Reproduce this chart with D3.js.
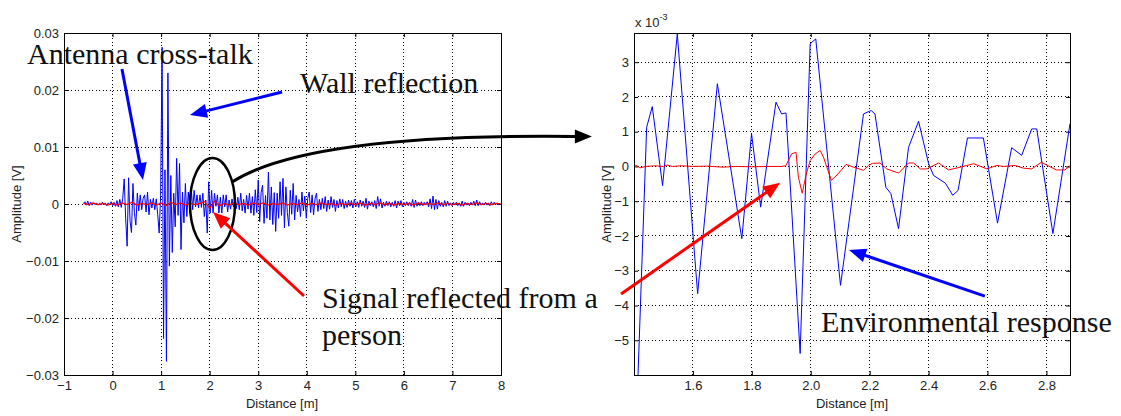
<!DOCTYPE html>
<html>
<head>
<meta charset="utf-8">
<script src="https://cdn.jsdelivr.net/npm/d3@7"></script>
<style>
  body { margin: 0; background: #fff; }
  svg { display: block; }
  .tick text { font-family: "Liberation Sans", Arial, sans-serif; font-size: 13px; fill: #222; }
  .lab { font-family: "Liberation Sans", Arial, sans-serif; font-size: 13px; fill: #222; }
  .note { font-family: "Liberation Serif", "Times New Roman", serif; font-size: 30px; fill: #111; }
</style>
</head>
<body>
<svg id="chart" width="1121" height="416"></svg>
<script>
// ---- data (amplitudes in mV) ----
// wide view: blue trace sampled every 0.03 m starting at -0.6 m
const wideStart = -0.6, wideStep = 0.03;
const wideBlue = [
  0.1, 0.4, -0.2, 0.5, -0.3, 0.3, -0.2, 0.2, -0.1, 0.2,
  -0.2, 0.1, -0.2, 0.3, -0.1, 0.2, -0.3, 0.2, -0.1, 0.4,
  -0.3, 0.3, -0.4, 0.6, -0.5, 0.8, -0.6, 1.0, 4.4, -2.5,
  -7.4, 4.6, -3.0, -5.0, 3.6, -1.5, -3.7, 1.9, -1.2, 1.6,
  -1.0, 1.0, 1.6, -1.4, 2.1, -1.9, 0.8, -0.7, 1.0, -1.0,
  0.9, -1.8, -5.1, 1.5, 27.5, -23.6, 6.0, -27.6, 23.0, -10.9,
  5.0, -8.5, 1.9, -4.0, 8.0, -2.0, 7.1, -8.0, 2.1, -3.3,
  3.6, -2.2, 2.1, -1.5, 3.0, -1.0, 2.4, -0.5, 1.6, -0.7,
  1.6, -0.6, 1.9, -2.2, 0.7, -5.1, 3.9, -1.6, 2.4, -1.6,
  1.9, -0.4, 1.6, -1.6, 1.2, -1.6, 1.6, -0.5, 1.6, -1.4,
  0.7, -0.9, 0.9, -0.5, 0.7, -0.8, 1.2, -1.0, 1.9, -1.2,
  0.8, -1.6, 1.5, -0.9, 1.9, -1.6, 1.3, -2.0, 2.5, -1.5,
  4.2, -3.1, 2.0, 3.3, -3.4, 1.5, -2.5, 5.6, -2.8, 3.0,
  -3.6, 2.0, -4.8, 1.9, -2.5, 3.9, -2.0, 4.5, -4.2, 3.0,
  -1.5, -3.9, 2.4, -1.8, 3.6, -2.8, 1.5, -1.4, 0.8, -2.2,
  2.1, -1.2, 1.4, -2.5, 1.0, 2.1, -1.5, 1.6, -1.9, 0.9,
  1.9, -1.3, 0.8, -1.0, 1.0, -0.8, 1.3, -1.3, 0.7, -0.9,
  1.3, -0.6, 0.8, -1.3, 0.6, -0.7, 0.9, -0.5, 0.8, -0.8,
  0.5, -0.6, 0.7, -0.4, 0.6, -0.7, 0.8, -0.5, 0.4, -0.6,
  0.7, -0.4, 0.5, -0.6, 1.0, -0.9, 0.5, -0.3, 0.4, -0.5,
  0.6, -0.8, 1.3, -0.4, 0.9, -0.7, 0.3, -0.4, 0.5, -0.3,
  0.4, -0.5, 0.3, -0.4, 0.6, -0.7, 0.5, -0.3, 0.6, -0.5,
  0.3, -0.3, 0.4, -0.3, 0.3, -0.4, 0.8, -0.6, 0.7, -0.4,
  0.3, -0.3, 0.4, -0.3, 0.3, -0.2, 0.4, -0.5, 0.9, -0.8,
  1.4, -1.0, 0.8, -0.9, 0.6, -0.4, 0.3, -0.5, 0.6, -0.4,
  0.5, -0.3, 0.2, -0.3, 0.3, -0.2, 0.3, -0.3, 0.2, -0.4,
  0.5, -0.4, 0.3, -0.2, 0.2, -0.3, 0.3, -0.2, 0.5, -0.3,
  0.7, -0.3, 0.4, -0.2, 0.2, -0.2, 0.3, -0.2, 0.2, -0.3,
  0.4, -0.2, 0.3, -0.1, 0.2, -0.1, 0.1
];
// wide view: red trace every 0.1 m from -0.6 m
const wideRedStep = 0.1;
const wideRed = [
  0.1, -0.1, 0.2, -0.1, 0.1, -0.2, 0.1,
  -0.2, 0.2, -0.1, 0.3, -0.2, 0.1, -0.1, 0.2, -0.2,
  0.2, -0.3, 0.3, -0.1, 0.2, -0.2, 0.1, -0.1, 0.1, 0.4,
  -0.8, 0.5, -0.3, 0.1, -0.2, 0.2, -0.1, 0.1, -0.2, 0.2,
  -0.1, 0.2, -0.2, 0.1, -0.1, 0.2, -0.2, 0.1, -0.1, 0.2,
  -0.2, 0.1, -0.1, 0.2, -0.1, 0.1, -0.2, 0.1, -0.1, 0.1,
  -0.1, 0.2, -0.2, 0.1, -0.1, 0.2, -0.1, 0.1, -0.2, 0.1,
  -0.1, 0.1, -0.2, 0.2, -0.1, 0.1, -0.1, 0.2, -0.1, 0.1,
  -0.1, 0.1, -0.2, 0.1, -0.1, 0.2, -0.1, 0.1, -0.1, 0.1, 0.0
];
// zoomed view: [distance m, amplitude mV]
const zoomBlue = [
  [1.400, -6.3], [1.412, -6.4], [1.443, 1.13], [1.462, 1.72], [1.497, -0.55],
  [1.547, 3.81], [1.616, -3.66], [1.683, 2.38], [1.766, -2.08], [1.799, 0.94],
  [1.830, -1.17], [1.882, 1.85], [1.901, 1.51], [1.916, 1.54], [1.964, -5.38],
  [1.998, 3.53], [2.017, 3.67], [2.101, -3.42], [2.179, 1.51], [2.205, 1.61],
  [2.218, 1.51], [2.255, -0.60], [2.272, -0.78], [2.298, -1.79], [2.332, 0.55],
  [2.366, 1.30], [2.400, 0.08], [2.417, -0.26], [2.457, -0.48], [2.482, -0.83],
  [2.500, -0.69], [2.532, 0.82], [2.586, 0.82], [2.634, -1.63], [2.682, 0.54],
  [2.716, 0.32], [2.750, 1.08], [2.767, 1.08], [2.822, -1.93], [2.880, 1.23]
];
const zoomRed = [
  [1.400, 0.05], [1.410, 0.02], [1.420, -0.04], [1.440, 0.00], [1.470, 0.02],
  [1.500, 0.00], [1.513, 0.04], [1.530, 0.00], [1.560, 0.02], [1.600, 0.00],
  [1.650, 0.01], [1.700, -0.02], [1.750, 0.00], [1.800, -0.01], [1.850, 0.00],
  [1.900, 0.00], [1.915, 0.02], [1.924, 0.17], [1.935, 0.36], [1.950, 0.41],
  [1.958, -0.31], [1.971, -0.77], [1.985, -0.21], [1.998, 0.17], [2.015, 0.36],
  [2.032, 0.46], [2.043, 0.27], [2.070, -0.40], [2.093, -0.21], [2.120, 0.06],
  [2.145, -0.02], [2.179, -0.11], [2.196, 0.03], [2.210, 0.09], [2.235, 0.10],
  [2.258, -0.07], [2.298, -0.19], [2.332, 0.10], [2.349, 0.10], [2.372, -0.07],
  [2.394, -0.07], [2.434, 0.10], [2.468, -0.10], [2.508, -0.02], [2.553, 0.08],
  [2.598, -0.07], [2.632, 0.03], [2.655, 0.00], [2.694, 0.03], [2.722, -0.05],
  [2.750, -0.07], [2.783, 0.12], [2.806, 0.02], [2.834, -0.10], [2.863, -0.10],
  [2.880, 0.02]
];
const wideXTicks = [-1, 0, 1, 2, 3, 4, 5, 6, 7, 8];
const wideYTicks = [-0.03, -0.02, -0.01, 0, 0.01, 0.02, 0.03];
const zoomXTicks = [1.6, 1.8, 2, 2.2, 2.4, 2.6, 2.8];
const zoomYTicks = [-5, -4, -3, -2, -1, 0, 1, 2, 3];

const svg = d3.select("#chart");
svg.append("rect").attr("width", 1121).attr("height", 416).attr("fill", "#fff");

// draws a MATLAB-like box with dotted grid and inward ticks
function panel(x, y, xt, yt, yfmt, clipId) {
  const [x0, x1] = x.range(), [y0, y1] = y.range();
  const g = svg.append("g");
  const grid = g.append("g").attr("stroke", "#000").attr("stroke-width", 1)
    .attr("stroke-dasharray", "1,2.5").attr("shape-rendering", "crispEdges");
  grid.selectAll(".gx").data(xt).enter().append("line")
    .attr("x1", d => x(d)).attr("x2", d => x(d)).attr("y1", y0).attr("y2", y1);
  grid.selectAll(".gy").data(yt).enter().append("line")
    .attr("y1", d => y(d)).attr("y2", d => y(d)).attr("x1", x0).attr("x2", x1);

  svg.append("clipPath").attr("id", clipId).append("rect")
    .attr("x", x0).attr("y", y1).attr("width", x1 - x0).attr("height", y0 - y1);

  const ax = [
    [d3.axisBottom(x).tickValues(xt).tickSize(-4).tickPadding(6), `translate(0,${y0})`, true],
    [d3.axisTop(x).tickValues(xt).tickSize(-4), `translate(0,${y1})`, false],
    [d3.axisLeft(y).tickValues(yt).tickSize(-4).tickPadding(5).tickFormat(yfmt), `translate(${x0},0)`, true],
    [d3.axisRight(y).tickValues(yt).tickSize(-4), `translate(${x1},0)`, false]
  ];
  ax.forEach(([a, tr, labels]) => {
    const s = svg.append("g").attr("transform", tr).call(a.tickSizeOuter(0));
    s.select(".domain").remove();
    s.selectAll("line").attr("stroke", "#000");
    if (!labels) s.selectAll("text").remove();
  });
  return g;
}

function box(x, y) {
  const [x0, x1] = x.range(), [y0, y1] = y.range();
  svg.append("rect").attr("x", x0).attr("y", y1).attr("width", x1 - x0).attr("height", y0 - y1)
    .attr("fill", "none").attr("stroke", "#000").attr("stroke-width", 1).attr("shape-rendering", "crispEdges");
}

// ---- left (wide) panel ----
const lx = d3.scaleLinear().domain([-1, 8]).range([64, 501]);
const ly = d3.scaleLinear().domain([-0.03, 0.03]).range([375, 33]);
panel(lx, ly, wideXTicks, wideYTicks, d => d === 0 ? "0" : d3.format(".2f")(d), "clipL");

const lineL = d3.line().x(d => lx(d[0])).y(d => ly(d[1] / 1000));
const wideBluePts = wideBlue.map((v, i) => [wideStart + i * wideStep, v]);
const wideRedPts = wideRed.map((v, i) => [wideStart + i * wideRedStep, v]);
const gl = svg.append("g").attr("clip-path", "url(#clipL)");
gl.append("path").datum(wideBluePts).attr("d", lineL)
  .attr("fill", "none").attr("stroke", "#0000ff").attr("stroke-width", 1);
gl.append("path").datum(wideRedPts).attr("d", lineL)
  .attr("fill", "none").attr("stroke", "#ff0000").attr("stroke-width", 1.2);
box(lx, ly);

svg.append("text").attr("class", "lab").attr("x", 282).attr("y", 408)
  .attr("text-anchor", "middle").text("Distance [m]");
svg.append("text").attr("class", "lab").attr("transform", "translate(21,204) rotate(-90)")
  .attr("text-anchor", "middle").text("Amplitude [V]");

// ---- right (zoom) panel ----
const rx = d3.scaleLinear().domain([1.4, 2.88]).range([634, 1070]);
const ry = d3.scaleLinear().domain([-6, 3.84]).range([375, 33]);
panel(rx, ry, zoomXTicks, zoomYTicks, d3.format("d"), "clipR");

const lineR = d3.line().x(d => rx(d[0])).y(d => ry(d[1]));
const gr = svg.append("g").attr("clip-path", "url(#clipR)");
gr.append("path").datum(zoomBlue).attr("d", lineR)
  .attr("fill", "none").attr("stroke", "#0000ff").attr("stroke-width", 1);
gr.append("path").datum(zoomRed).attr("d", lineR)
  .attr("fill", "none").attr("stroke", "#ff0000").attr("stroke-width", 1);
box(rx, ry);

svg.append("text").attr("class", "lab").attr("x", 852).attr("y", 408)
  .attr("text-anchor", "middle").text("Distance [m]");
svg.append("text").attr("class", "lab").attr("transform", "translate(611,204) rotate(-90)")
  .attr("text-anchor", "middle").text("Amplitude [V]");
const exp = svg.append("text").attr("class", "lab").attr("x", 635).attr("y", 27);
exp.append("tspan").text("x 10");
exp.append("tspan").attr("dy", -7).style("font-size", "9px").text("-3");

// ---- annotations ----
function arrow(x1, y1, x2, y2, color) {
  const a = Math.atan2(y2 - y1, x2 - x1), hl = 17, hw = 7;
  const bx = x2 - hl * Math.cos(a), by = y2 - hl * Math.sin(a);
  svg.append("line").attr("x1", x1).attr("y1", y1).attr("x2", bx + 2 * Math.cos(a)).attr("y2", by + 2 * Math.sin(a))
    .attr("stroke", color).attr("stroke-width", 3);
  svg.append("path")
    .attr("d", `M${x2},${y2}L${bx - hw * Math.sin(a)},${by + hw * Math.cos(a)}L${bx + hw * Math.sin(a)},${by - hw * Math.cos(a)}Z`)
    .attr("fill", color);
}

// ellipse around the person echo, in wide-view data coordinates
const ec = [2.058, 0], er = [0.463, 0.00807];
svg.append("ellipse").attr("cx", lx(ec[0])).attr("cy", ly(ec[1]))
  .attr("rx", lx(ec[0] + er[0]) - lx(ec[0])).attr("ry", ly(0) - ly(er[1]))
  .attr("fill", "none").attr("stroke", "#000").attr("stroke-width", 2.5);

// connector from the ellipse to the zoomed panel
const cs = [lx(2.46), ly(0.00386)], ce = [rx(1.257), ry(0.862)];
svg.append("path")
  .attr("d", `M${cs[0]},${cs[1]}C${cs[0] + 58},${cs[1] - 37} ${ce[0] - 172},${ce[1] - 2} ${ce[0] - 14},${ce[1]}`)
  .attr("fill", "none").attr("stroke", "#000").attr("stroke-width", 3);
arrow(ce[0] - 30, ce[1], ce[0], ce[1], "#000");

arrow(lx(0.194), ly(0.02368), lx(0.627), ly(0.00421), "#0000ff");
arrow(lx(3.49), ly(0.01965), lx(1.595), ly(0.01561), "#0000ff");
arrow(lx(3.943), ly(-0.01614), lx(2.069), ly(-0.0014), "#ff0000");
arrow(rx(1.356), ry(-3.67), rx(1.896), ry(-0.47), "#ff0000");
arrow(rx(2.591), ry(-3.73), rx(2.130), ry(-2.40), "#0000ff");

svg.append("text").attr("class", "note").attr("x", 27).attr("y", 64).text("Antenna cross-talk");
svg.append("text").attr("class", "note").attr("x", 300).attr("y", 93).text("Wall reflection");
svg.append("text").attr("class", "note").attr("x", 322).attr("y", 308).text("Signal reflected from a");
svg.append("text").attr("class", "note").attr("x", 322).attr("y", 345).text("person");
svg.append("text").attr("class", "note").attr("x", 821).attr("y", 332).text("Environmental response");
</script>
</body>
</html>
